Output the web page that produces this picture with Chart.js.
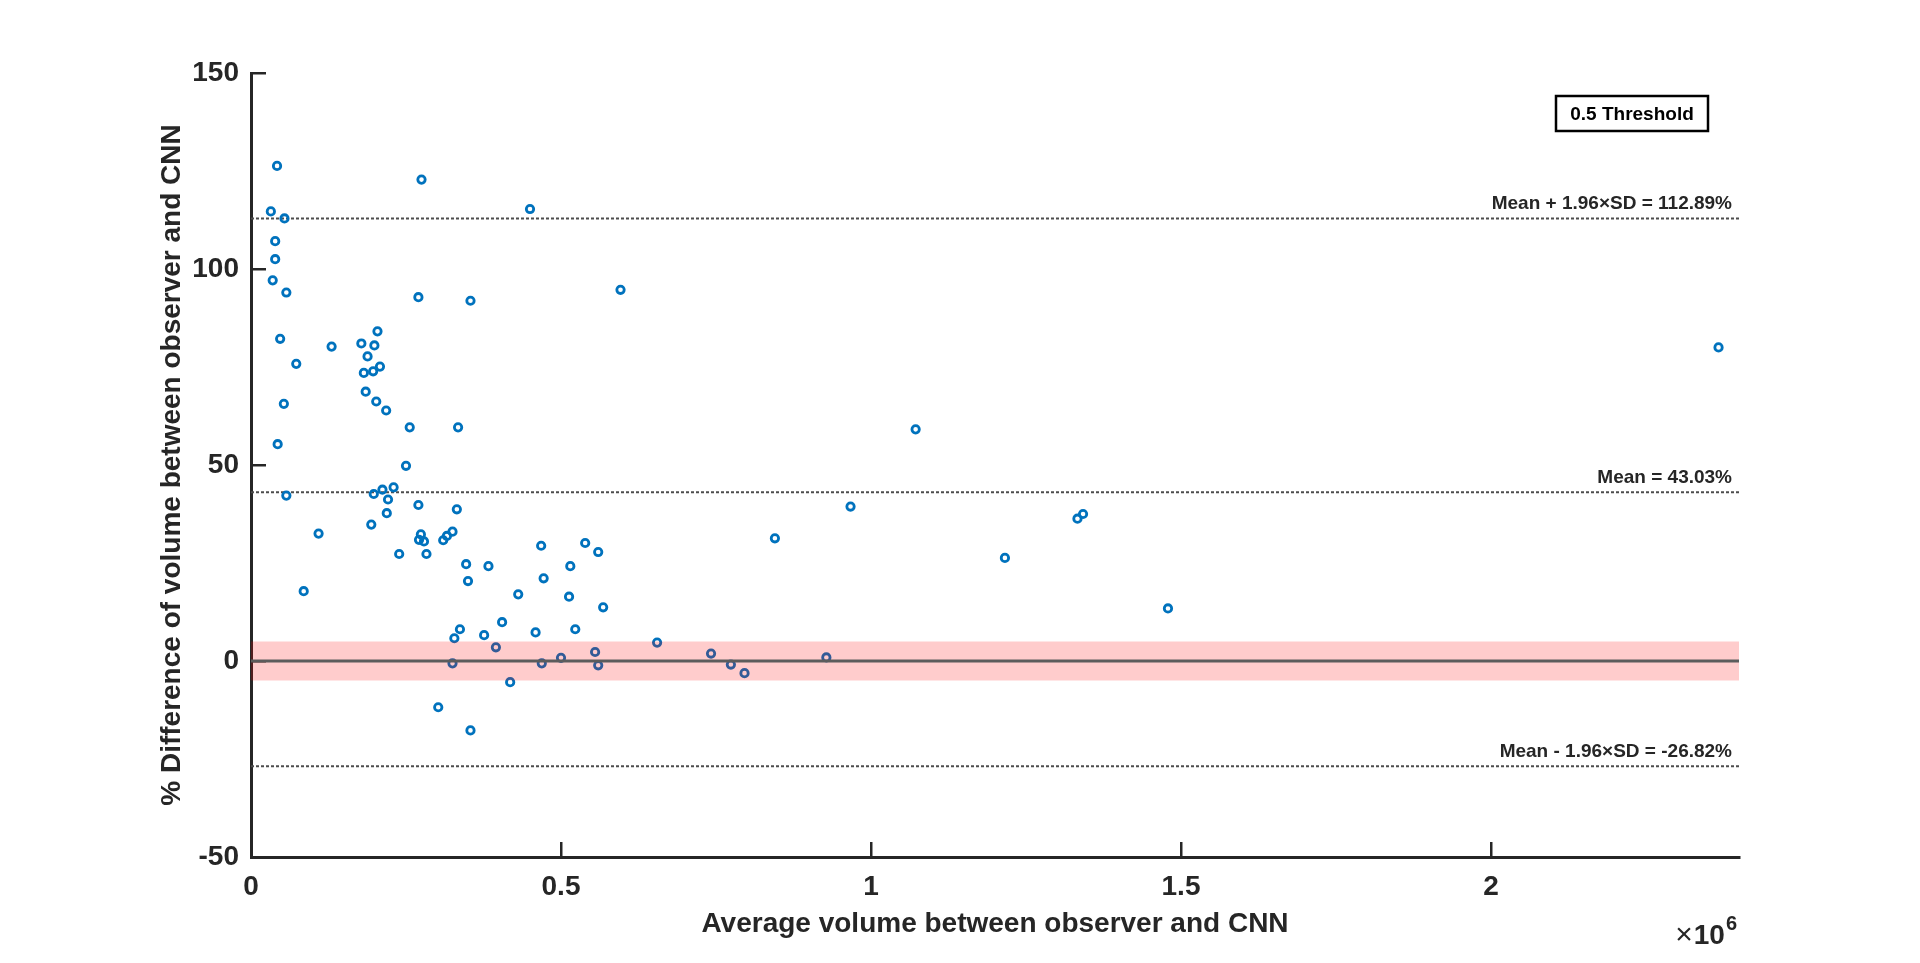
<!DOCTYPE html>
<html>
<head>
<meta charset="utf-8">
<script src="https://cdn.jsdelivr.net/npm/chart.js@4.4.1/dist/chart.umd.min.js"></script>
<style>
    body { margin: 0; background: #fff; }
    #wrap { width: 1920px; height: 963px; }
</style>
</head>
<body>
<div id="wrap"><canvas id="blandAltman" width="1920" height="963"></canvas></div>
<script>
// average volume (observer vs CNN) and % difference
const avgVolume = [
    32000, 42000, 54000, 39000, 39000, 35000, 57000, 47000, 73000, 53000,
    43000, 57000, 85000, 109000, 130000, 178000, 204000, 199000, 188000, 182000,
    197000, 208000, 185000, 202000, 218000, 256000, 334000, 275000, 270000, 354000,
    450000, 596000, 250000, 198000, 212000, 230000, 221000, 219000, 194000, 270000,
    332000, 239000, 274000, 271000, 279000, 283000, 310000, 316000, 325000, 347000,
    350000, 383000, 337000, 328000, 325000, 376000, 395000, 405000, 431000, 418000,
    302000, 354000, 468000, 472000, 459000, 469000, 500000, 515000, 513000, 523000,
    539000, 560000, 568000, 555000, 560000, 655000, 742000, 774000, 796000, 845000,
    928000, 967000, 1072000, 1216000, 1333000, 1342000, 1479000, 2367000
];
const pctDiff = [
    114.7, 126.3, 112.9, 107.1, 102.5, 97.1, 94.0, 82.2, 75.8, 65.6,
    55.3, 42.2, 17.8, 32.5, 80.2, 81.0, 84.1, 80.5, 77.7, 73.5,
    73.9, 75.1, 68.7, 66.2, 63.9, 59.6, 59.6, 122.8, 92.8, 91.9,
    115.3, 94.7, 49.8, 42.6, 43.7, 44.3, 41.2, 37.7, 34.8, 39.8,
    38.7, 27.3, 32.3, 30.9, 30.5, 27.3, 30.8, 31.9, 33.0, 24.7,
    20.4, 24.2, 8.1, 5.8, -0.6, 6.6, 3.5, 9.9, 17.0, -5.4,
    -11.8, -17.7, 29.4, 21.1, 7.3, -0.6, 0.8, 24.2, 16.4, 8.1,
    30.1, 27.8, 13.7, 2.3, -1.1, 4.7, 1.9, -0.9, -3.1, 31.3,
    0.9, 39.4, 59.1, 26.3, 36.3, 37.5, 13.4, 80.0
];

// reference lines
const meanDiff = 43.03;
const upperLoA = 112.89;
const lowerLoA = -26.82;
const threshold = 5;      // +/- band around zero
const xRange = [0, 2400000];
const yRange = [-50, 150];
const xTicks = [0, 500000, 1000000, 1500000, 2000000];

const axisColor = '#262626';
const fontFamily = "'Liberation Sans', Arial, sans-serif";

const hLine = (val) => xRange.map(x => ({ x: x, y: val }));

// texts drawn on top of the plot: limits, threshold box, x exponent
const labelsPlugin = {
    id: 'baLabels',
    afterDraw(chart) {
        const { ctx, chartArea, scales } = chart;
        ctx.save();
        ctx.fillStyle = axisColor;
        ctx.font = `bold 19px ${fontFamily}`;
        ctx.textAlign = 'right';
        ctx.textBaseline = 'alphabetic';
        const lines = [
            [upperLoA, 'Mean + 1.96\u00d7SD = ' + upperLoA.toFixed(2) + '%'],
            [meanDiff, 'Mean = ' + meanDiff.toFixed(2) + '%'],
            [lowerLoA, 'Mean - 1.96\u00d7SD = ' + lowerLoA.toFixed(2) + '%']
        ];
        lines.forEach(([v, txt]) => {
            ctx.fillText(txt, chartArea.right - 7, scales.y.getPixelForValue(v) - 9);
        });

        // legend-like box
        const bx = chartArea.right - 183, by = chartArea.top + 23, bw = 152, bh = 35;
        ctx.fillStyle = '#fff';
        ctx.fillRect(bx, by, bw, bh);
        ctx.strokeStyle = '#000';
        ctx.lineWidth = 2.5;
        ctx.strokeRect(bx, by, bw, bh);
        ctx.fillStyle = '#000';
        ctx.textAlign = 'center';
        ctx.textBaseline = 'middle';
        ctx.fillText('0.5 Threshold', bx + bw / 2, by + bh / 2 + 1);

        // x10^6 exponent
        ctx.fillStyle = axisColor;
        ctx.textAlign = 'right';
        ctx.textBaseline = 'alphabetic';
        const right = chartArea.right - 2;
        ctx.font = `bold 20px ${fontFamily}`;
        const supW = ctx.measureText('6').width;
        ctx.fillText('6', right, 930);
        ctx.font = `bold 28px ${fontFamily}`;
        const tenW = ctx.measureText('10').width;
        ctx.fillText('10', right - supW - 1, 944);
        ctx.font = `30px ${fontFamily}`;
        ctx.fillText('\u00d7', right - supW - tenW - 2, 944);
        ctx.restore();
    }
};

const ctx = document.getElementById('blandAltman').getContext('2d');
new Chart(ctx, {
    type: 'scatter',
    data: {
        datasets: [
            {
                // zero line
                type: 'line',
                data: hLine(0),
                borderColor: '#5c5c5c',
                borderWidth: 3,
                pointRadius: 0,
                order: 0
            },
            {
                // threshold band
                type: 'line',
                data: hLine(threshold),
                borderWidth: 0,
                pointRadius: 0,
                fill: { target: { value: -threshold } },
                backgroundColor: 'rgba(255, 0, 0, 0.2)',
                order: 1
            },
            {
                data: avgVolume.map((x, i) => ({ x: x, y: pctDiff[i] })),
                pointStyle: 'circle',
                pointRadius: 3.7,
                pointBorderWidth: 2.8,
                pointBorderColor: '#0072BD',
                pointBackgroundColor: 'transparent',
                order: 2
            },
            ...[upperLoA, meanDiff, lowerLoA].map(v => ({
                type: 'line',
                data: hLine(v),
                borderColor: '#4d4d4d',
                borderWidth: 2,
                borderDash: [3, 2],
                pointRadius: 0,
                order: 3
            }))
        ]
    },
    options: {
        responsive: false,
        devicePixelRatio: 1,
        animation: false,
        layout: { padding: { left: 150, top: 73, right: 181, bottom: 0 } },
        plugins: {
            legend: { display: false },
            tooltip: { enabled: false }
        },
        scales: {
            x: {
                type: 'linear',
                min: xRange[0],
                max: xRange[1],
                afterBuildTicks: scale => { scale.ticks = xTicks.map(v => ({ value: v })); },
                ticks: {
                    callback: v => String(v / 1e6),
                    padding: 28,
                    color: axisColor,
                    font: { family: fontFamily, size: 28, weight: 'bold' }
                },
                grid: { drawOnChartArea: false, tickLength: -15, color: axisColor, lineWidth: 2.5 },
                border: { color: axisColor, width: 3 },
                title: {
                    display: true,
                    text: 'Average volume between observer and CNN',
                    color: axisColor,
                    padding: { bottom: 22 },
                    font: { family: fontFamily, size: 28, weight: 'bold' }
                },
                afterFit: scale => { scale.height = 106; }
            },
            y: {
                min: yRange[0],
                max: yRange[1],
                ticks: {
                    stepSize: 50,
                    padding: 27,
                    color: axisColor,
                    font: { family: fontFamily, size: 28, weight: 'bold' }
                },
                grid: { drawOnChartArea: false, tickLength: -15, color: axisColor, lineWidth: 2.5 },
                border: { color: axisColor, width: 3 },
                title: {
                    display: true,
                    text: '% Difference of volume between observer and CNN',
                    color: axisColor,
                    padding: { top: 5 },
                    font: { family: fontFamily, size: 28, weight: 'bold' }
                },
                afterFit: scale => { scale.width = 101; }
            }
        }
    },
    plugins: [labelsPlugin]
});
</script>
</body>
</html>
